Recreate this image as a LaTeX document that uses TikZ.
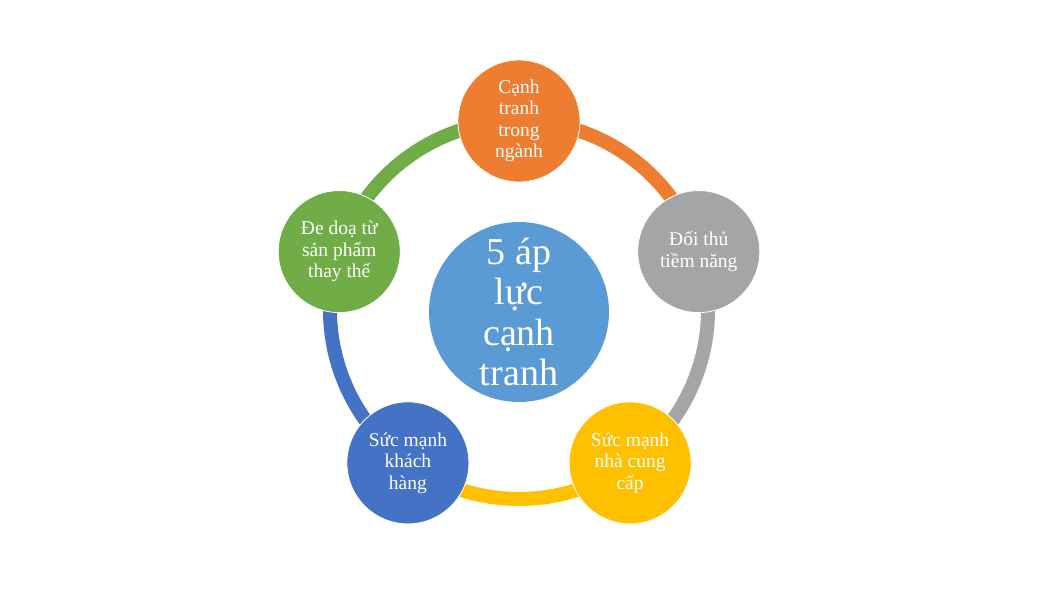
\documentclass[tikz,border=0pt]{standalone}
\usepackage{fontspec}
\setmainfont{Liberation Serif}
\usetikzlibrary{backgrounds,calc}
\definecolor{cOrange}{HTML}{ED7D31}
\definecolor{cGrey}{HTML}{A5A5A5}
\definecolor{cYellow}{HTML}{FFC000}
\definecolor{cBlue}{HTML}{4472C4}
\definecolor{cGreen}{HTML}{70AD47}
\definecolor{cCore}{HTML}{5B9BD5}
\begin{document}
\begin{tikzpicture}[x=1pt, y=1pt,
	forcebox/.style={circle, minimum size=122pt, inner sep=0pt, align=center, text=white, draw=white, line width=0.8pt, font=\fontsize{19.5}{21.5}\selectfont},
	corebox/.style={circle, minimum size=180pt, inner sep=0pt, align=center, text=white, fill=cCore, font=\fontsize{38}{40.5}\selectfont},
	ring/.style={line width=14pt}]
	\def \R{189};
	\useasboundingbox (0,0) rectangle (1040,600);
	\coordinate (c) at (519,290);
	\node[corebox] (core) at (519,288) {5 áp\\lực\\cạnh\\tranh};
	\foreach \name/\ang/\col/\txt in {rivalry/90/cOrange/{Cạnh\\tranh\\trong\\ngành}, entrants/18/cGrey/{Đối thủ\\tiềm năng}, suppliers/-54/cYellow/{Sức mạnh\\nhà cung\\cấp}, buyers/-126/cBlue/{Sức mạnh\\khách\\hàng}, substitutes/162/cGreen/{Đe doạ từ\\sản phẩm\\thay thế}}
	\node[forcebox, fill=\col] (\name) at ($(c)+(\ang:\R)$) {\txt};
	\begin{scope}[on background layer]
		\foreach \a/\sa/\col in {rivalry/90/cOrange, entrants/18/cGrey, suppliers/-54/cYellow, buyers/-126/cBlue, substitutes/162/cGreen}
		\draw[ring, \col] (\a.center) arc[start angle=\sa, delta angle=-72, radius=\R];
	\end{scope}
\end{tikzpicture}
\end{document}
